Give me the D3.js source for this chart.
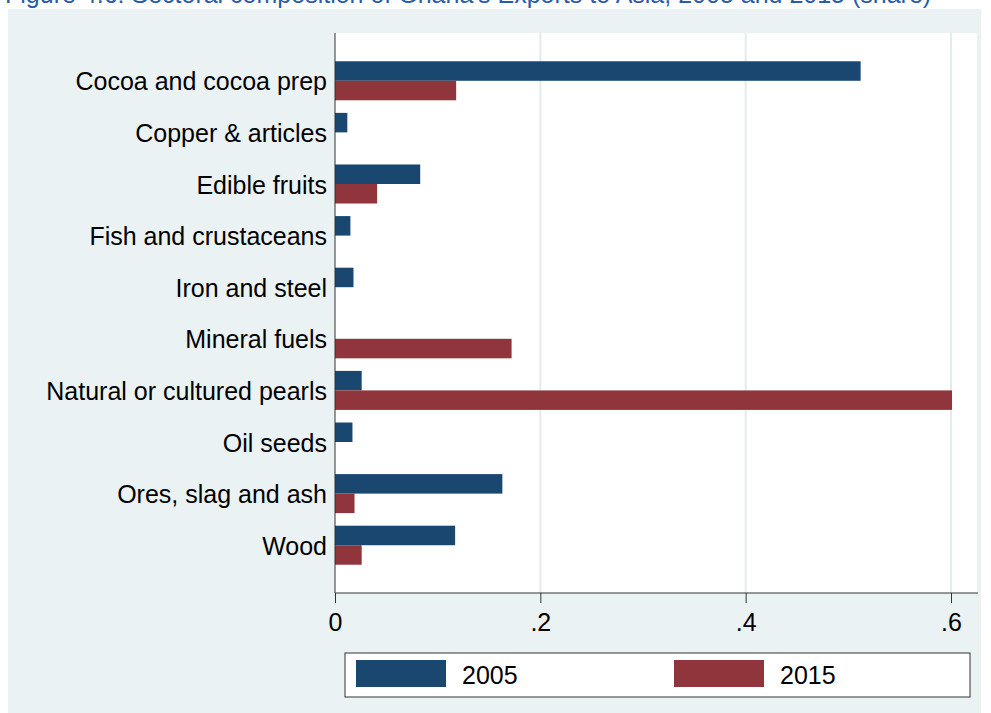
<!DOCTYPE html>
<html>
<head>
<meta charset="utf-8">
<script src="https://cdn.jsdelivr.net/npm/d3@7/dist/d3.min.js"></script>
<style>
  body { margin: 0; background: #fff; }
  svg { display: block; font-family: "Liberation Sans", Arial, sans-serif; }
</style>
</head>
<body>
<div id="chart"></div>
<script>
// categories and shares
var categories = ["Cocoa and cocoa prep", "Copper & articles", "Edible fruits",
                  "Fish and crustaceans", "Iron and steel", "Mineral fuels",
                  "Natural or cultured pearls", "Oil seeds", "Ores, slag and ash", "Wood"];
var series = ["2005", "2015"];
var values2005 = [0.512, 0.012, 0.083, 0.015, 0.018, 0, 0.026, 0.017, 0.163, 0.117];
var values2015 = [0.118, 0, 0.041, 0, 0, 0.172, 0.601, 0, 0.019, 0.026];
var xTicks = [0, 0.2, 0.4, 0.6];
var xTickLabels = ["0", ".2", ".4", ".6"];
var title = "Figure 4.6: Sectoral composition of Ghana's Exports to Asia, 2005 and 2015 (share)";

var width = 991, height = 713
  , colors = {"2005": "#1a476f", "2015": "#90353b"}
  , plot = {left: 335, right: 977, top: 33, bottom: 593}
  , fs = 25;

var svg = d3.select("#chart").append("svg").attr("width", width).attr("height", height);

// title strip, cut off at the top like in the source
svg.append("text").attr("x", 5).attr("y", 3)
   .attr("font-size", fs).attr("fill", "#2a5caa").text(title);

// graph region
svg.append("rect").attr("x", 8).attr("y", 9).attr("width", 973).attr("height", 704)
   .attr("fill", "#eaf2f3");
svg.append("rect").attr("x", plot.left).attr("y", plot.top)
   .attr("width", plot.right - plot.left).attr("height", plot.bottom - plot.top)
   .attr("fill", "#fff");

var x = d3.scaleLinear().domain([0, 0.6]).range([plot.left, 951]);
var y = d3.scaleBand().domain(categories).range([plot.top, plot.bottom])
          .paddingInner(0.244).paddingOuter(0.548);
var ySub = d3.scaleBand().domain(series).range([0, y.bandwidth()]);

// grid
svg.append("g").selectAll("line").data(xTicks.filter(function (d) { return d > 0; }))
   .join("line")
   .attr("x1", function (d) { return x(d); }).attr("x2", function (d) { return x(d); })
   .attr("y1", plot.top).attr("y2", plot.bottom)
   .attr("stroke", "#e3ebeb").attr("stroke-width", 2);

// bars
var rows = categories.map(function (c, i) {
  return {cat: c, vals: [{s: "2005", v: values2005[i]}, {s: "2015", v: values2015[i]}]};
});
svg.append("g").selectAll("g").data(rows).join("g")
   .attr("transform", function (d) { return "translate(0," + y(d.cat) + ")"; })
   .selectAll("rect").data(function (d) { return d.vals.filter(function (e) { return e.v > 0; }); })
   .join("rect")
   .attr("x", x(0))
   .attr("y", function (d) { return ySub(d.s); })
   .attr("width", function (d) { return x(d.v) - x(0); })
   .attr("height", ySub.bandwidth())
   .attr("fill", function (d) { return colors[d.s]; });

// x axis
var xAxis = d3.axisBottom(x).tickValues(xTicks).tickSize(10).tickPadding(10)
              .tickFormat(function (d, i) { return xTickLabels[i]; });
var gx = svg.append("g").attr("transform", "translate(0," + plot.bottom + ")").call(xAxis);
gx.select(".domain").attr("d", "M" + plot.left + ",0H" + (plot.right + 1)).attr("stroke", "#333");
gx.selectAll(".tick line").attr("stroke", "#333");
gx.selectAll("text").attr("font-size", fs).attr("fill", "#000").attr("font-family", "Liberation Sans, Arial, sans-serif");

// y axis
svg.append("line").attr("x1", plot.left).attr("x2", plot.left)
   .attr("y1", plot.top).attr("y2", plot.bottom).attr("stroke", "#333");
svg.append("g").selectAll("text").data(categories).join("text")
   .attr("x", 327)
   .attr("y", function (d) { return y(d) + y.bandwidth() / 2 + 3; })
   .attr("text-anchor", "end").attr("dominant-baseline", "middle")
   .attr("font-size", fs).attr("fill", "#000")
   .text(function (d) { return d; });

// legend
var legend = svg.append("g");
legend.append("rect").attr("x", 345).attr("y", 653).attr("width", 625).attr("height", 44)
      .attr("fill", "#fff").attr("stroke", "#333");
var items = legend.selectAll("g").data(series).join("g")
      .attr("transform", function (d, i) { return "translate(" + (356 + i * 318) + ",660)"; });
items.append("rect").attr("width", 90).attr("height", 27)
     .attr("fill", function (d) { return colors[d]; });
items.append("text").attr("x", 106).attr("y", 24).attr("font-size", fs).attr("fill", "#000")
     .text(function (d) { return d; });
</script>
</body>
</html>
